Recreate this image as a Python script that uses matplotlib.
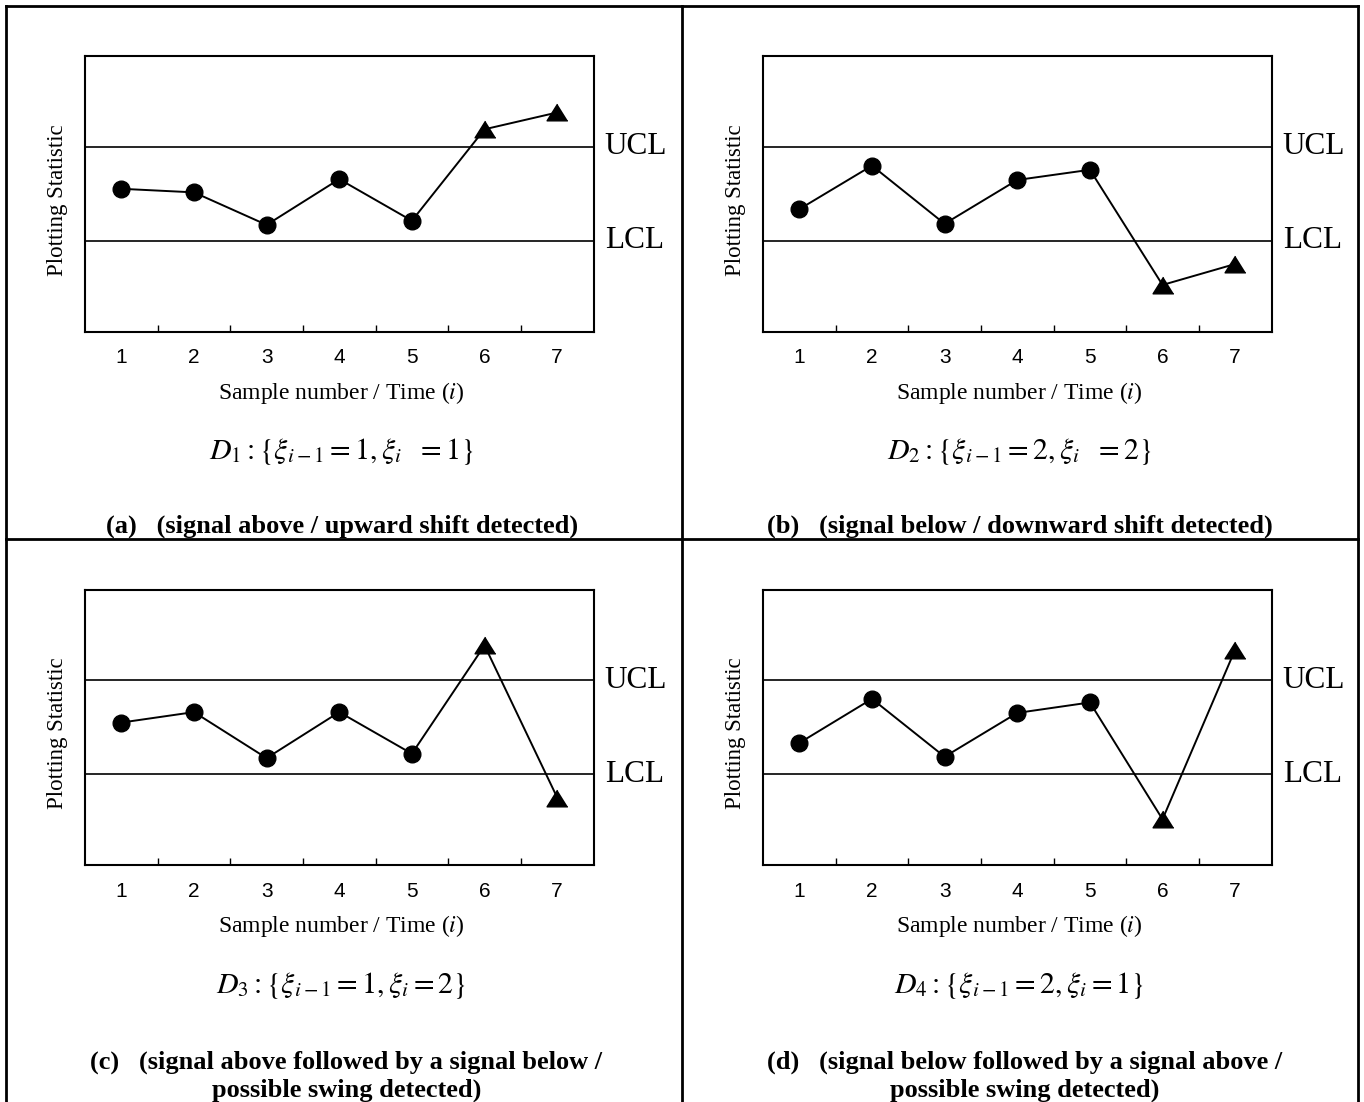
import numpy as np
import matplotlib
matplotlib.use("Agg")
from matplotlib import pyplot as plt
from matplotlib.lines import Line2D

plt.rcParams['font.family'] = 'Liberation Serif'
plt.rcParams['mathtext.fontset'] = 'stix'

W, H = 1364, 1102

samples = [1, 2, 3, 4, 5, 6, 7]
ucl = 67
lcl = 33

stat_a = [51.8, 50.5, 38.7, 55.3, 40.2, 73.4, 79.5]
stat_b = [44.4, 60.2, 39.1, 55.0, 58.7, 16.9, 24.5]
stat_c = [51.7, 55.5, 38.8, 55.5, 40.4, 79.7, 24.5]
stat_d = [44.3, 60.3, 39.3, 55.2, 59.0, 16.6, 78.2]

n_inside = 5  # first points plotted as circles, the rest as triangles

formulas = [r"$D_1:\{\xi_{i-1}=1,\xi_i\ \ =1\}$",
            r"$D_2:\{\xi_{i-1}=2,\xi_i\ \ =2\}$",
            r"$D_3:\{\xi_{i-1}=1,\xi_i=2\}$",
            r"$D_4:\{\xi_{i-1}=2,\xi_i=1\}$"]

captions = ["(a)   (signal above / upward shift detected)",
            "(b)   (signal below / downward shift detected)",
            "(c)   (signal above followed by a signal below /\npossible swing detected)",
            "(d)   (signal below followed by a signal above /\npossible swing detected)"]

# left, top of each axes box in pixels
boxes = [(85, 56), (763, 56), (85, 589.5), (763, 589.5)]
aw, ah = 508.5, 275.5

tri = [(0, 0.8), (-1, -0.8), (1, -0.8)]

fig = plt.figure(figsize=(W / 100, H / 100), dpi=100)

def fx(px):
    return px / W

def fy(py):
    return 1 - py / H

for k, stat in enumerate([stat_a, stat_b, stat_c, stat_d]):
    l, t = boxes[k]
    ax = fig.add_axes([fx(l), fy(t + ah), aw / W, ah / H])
    ax.set_xlim(0.5, 7.5)
    ax.set_ylim(0, 100)
    ax.axhline(ucl, color='k', lw=1.2)
    ax.axhline(lcl, color='k', lw=1.2)
    ax.plot(samples, stat, color='k', lw=1.4)
    ax.plot(samples[:n_inside], stat[:n_inside], 'o', color='k', ms=12)
    ax.plot(samples[n_inside:], stat[n_inside:], linestyle='none',
            marker=tri, color='k', ms=15)
    for s in ax.spines.values():
        s.set_linewidth(1.5)
    ax.set_yticks([])
    ax.set_xticks(samples)
    ax.set_xticklabels([str(s) for s in samples], family='Liberation Sans', fontsize=15)
    ax.set_xticks(np.arange(1.5, 7, 1), minor=True)
    ax.tick_params(axis='x', which='major', length=0, pad=12)
    ax.tick_params(axis='x', which='minor', direction='in', length=5, width=1)

    ax.text(1.022, ucl, "UCL", transform=ax.get_yaxis_transform(),
            fontsize=22.5, va='center', ha='left')
    ax.text(1.022, lcl, "LCL", transform=ax.get_yaxis_transform(),
            fontsize=22.5, va='center', ha='left')

    cx = l + aw / 2
    fig.text(fx(l - 27), fy(t + ah / 2 + 6), "Plotting Statistic", rotation=90,
             fontsize=16.5, ha='center', va='center')
    fig.text(fx(cx + 2), fy(t + 336.5), r"Sample number / Time ($i$)",
             fontsize=17, ha='center', va='center')
    fig.text(fx(cx + 2), fy(t + 396), formulas[k], fontsize=21.5,
             ha='center', va='center')
    if k < 2:
        fig.text(fx(cx + 3), fy(t + 470), captions[k], fontsize=19,
                 weight='bold', ha='center', va='center')
    else:
        fig.text(fx(cx + 7), fy(t + 487), captions[k], fontsize=19,
                 weight='bold', ha='center', va='center',
                 multialignment='center', linespacing=1.25)

# table borders around the four panels
lw = 2.0
for xs, ys in [([6, 1357.5], [6, 6]),
               ([6, 6], [6, H]),
               ([1357.5, 1357.5], [6, H]),
               ([682, 682], [6, H]),
               ([6, 1357.5], [539, 539])]:
    fig.add_artist(Line2D([fx(x) for x in xs], [fy(y) for y in ys],
                          color='k', lw=lw))

fig.savefig("out.png", dpi=100)
